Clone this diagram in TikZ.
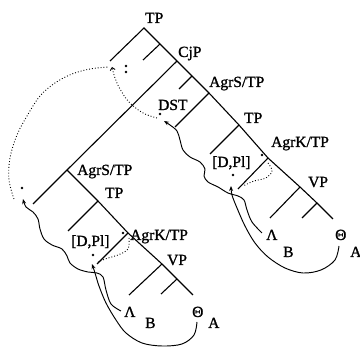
\documentclass[tikz,border=0pt]{standalone}
\usepackage{fontspec}
\setmainfont{Liberation Serif}
\newfontfamily\lblfont[FakeBold=1.2]{Liberation Serif}
\usetikzlibrary{arrows.meta}
\begin{document}
\begin{tikzpicture}[x=1pt,y=-1pt,
  lbl/.style={inner sep=0pt, anchor=base west, font=\lblfont\fontsize{15.5}{18}\selectfont},
  edge/.style={line width=1.1pt},
  chain/.style={line width=0.95pt, -{Stealth[length=5pt,width=4pt]}},
  trail/.style={line width=0.9pt, dash pattern=on 0.9pt off 2pt},
  tdot/.style={circle, fill, inner sep=0pt, minimum size=2.8pt}]
\useasboundingbox (0,0) rectangle (360,347);
% ---------- tree junctions ----------
\coordinate (root) at (144,28);
\coordinate (rootL) at (110,61);
\coordinate (r1) at (160,44);
\coordinate (r1L) at (143,60);
\coordinate (cjp) at (177,61);
\coordinate (c1) at (192,76);
\coordinate (c1L) at (179,89);
\coordinate (agrsU) at (209,93);
\coordinate (agrsUL) at (175,127);
\coordinate (tpU) at (239,125);
\coordinate (tpUL) at (210,154);
\coordinate (agrkU) at (268,158);
\coordinate (agrkUL) at (238,189);
\coordinate (vpU) at (300,187);
\coordinate (vpUL) at (270,218);
\coordinate (v2U) at (317,203);
\coordinate (v2UL) at (302,218);
\coordinate (v2UR) at (333,219);
\coordinate (agrsL) at (67,170);
\coordinate (agrsLL) at (33,204);
\coordinate (tpL) at (98,201);
\coordinate (tpLL) at (68,231);
\coordinate (agrkL) at (128,233);
\coordinate (agrkLL) at (97,264);
\coordinate (vpL) at (162,264);
\coordinate (vpLL) at (129,295);
\coordinate (v2L) at (177,279);
\coordinate (v2LL) at (161,294);
\coordinate (v2LR) at (193,295);
% ---------- branches ----------
\draw[edge] (rootL) -- (root) -- (cjp);
\draw[edge] (r1) -- (r1L);
\draw[edge] (cjp) -- (agrsL) -- (agrsLL);
\draw[edge] (cjp) -- (agrsU) -- (tpU) -- (agrkU) -- (vpU) -- (v2U) -- (v2UR);
\draw[edge] (c1) -- (c1L);
\draw[edge] (agrsU) -- (agrsUL);
\draw[edge] (tpU) -- (tpUL);
\draw[edge] (agrkU) -- (agrkUL);
\draw[edge] (vpU) -- (vpUL);
\draw[edge] (v2U) -- (v2UL);
\draw[edge] (agrsL) -- (tpL) -- (agrkL) -- (vpL) -- (v2L) -- (v2LR);
\draw[edge] (tpL) -- (tpLL);
\draw[edge] (agrkL) -- (agrkLL);
\draw[edge] (vpL) -- (vpLL);
\draw[edge] (v2L) -- (v2LL);
% ---------- labels ----------
\node[lbl] (lTP) at (145,23) {TP};
\node[lbl] (lCjP) at (178,57) {CjP};
\node[lbl] (lAgrSU) at (209,87) {AgrS/TP};
\node[lbl] (lTPU) at (244,123) {TP};
\node[lbl] (lDST) at (158,110) {DST};
\node[lbl] (lDPU) at (212,167) {[D,Pl]};
\node[lbl] (lAgrKU) at (271,147) {AgrK/TP};
\node[lbl] (lVPU) at (308,187) {VP};
\node[lbl] (lLamU) at (266,240) {Λ};
\node[lbl] (lBU) at (283,257) {B};
\node[lbl] (lThU) at (335,240) {Θ};
\node[lbl] (lAU) at (350,257) {A};
\node[lbl] (lAgrSL) at (77,175) {AgrS/TP};
\node[lbl] (lTPL) at (105,198) {TP};
\node[lbl] (lDPL) at (71,246) {[D,Pl]};
\node[lbl] (lAgrKL) at (130,240) {AgrK/TP};
\node[lbl] (lVPL) at (167,265) {VP};
\node[lbl] (lLamL) at (124,317) {Λ};
\node[lbl] (lBL) at (145,328) {B};
\node[lbl] (lThL) at (192,317) {Θ};
\node[lbl] (lAL) at (208,328) {A};
% ---------- trace dots ----------
\node[tdot] (dDST) at (160,114) {};
\node[tdot] (dDPU) at (233,175) {};
\node[tdot] (dAgrKU) at (262,155) {};
\node[tdot] (dDPL) at (93,255) {};
\node[tdot] (dAgrKL) at (123,233) {};
\node[tdot] (dSpec) at (22,188) {};
\node[tdot] (dC1) at (126,66) {};
\node[tdot] (dC2) at (126,72) {};
% ---------- chains (solid) ----------
\draw[chain] plot[smooth, tension=0.55] coordinates {(262,233) (252,222) (247,210) (244,200) (238,196) (228,193) (218,187) (208,182) (204,176) (205,169) (200,162) (190,157) (183,150) (180,140) (177,131) (170,125) (164,121)};
\draw[chain] plot[smooth, tension=0.55] coordinates {(339,246) (335,260) (321,270) (303,273) (285,268) (268,257) (255,243) (245,226) (237,208) (232,195) (231,186)};
\draw[chain] plot[smooth, tension=0.55] coordinates {(121,311) (111,304) (106,290) (103,277) (97,273) (88,272) (78,269) (70,263) (67,256) (62,249) (52,245) (44,239) (40,229) (38,219) (33,212) (26,207) (23,199)};
\draw[chain] plot[smooth, tension=0.55] coordinates {(197,322) (194,335) (182,344) (162,346) (142,343) (126,333) (116,320) (106,303) (99,286) (95,273) (92,264)};
% ---------- chains (dotted) ----------
\draw[trail] plot[smooth, tension=0.6] coordinates {(14,199) (9,180) (10,158) (17,135) (27,116) (40,96) (55,83) (72,74) (90,69) (108,67)};
\draw[trail, -{Straight Barb[length=2.5pt,width=5pt]}] plot[smooth, tension=0.6] coordinates {(157,118) (143,113) (129,102) (120,89) (115,78) (112,67)};
\draw[trail] plot[smooth, tension=0.6] coordinates {(268,163) (272,171) (266,178) (254,181) (243,186)};
\draw[trail] plot[smooth, tension=0.6] coordinates {(129,238) (128,249) (118,255) (108,258) (98,262)};
\end{tikzpicture}
\end{document}
